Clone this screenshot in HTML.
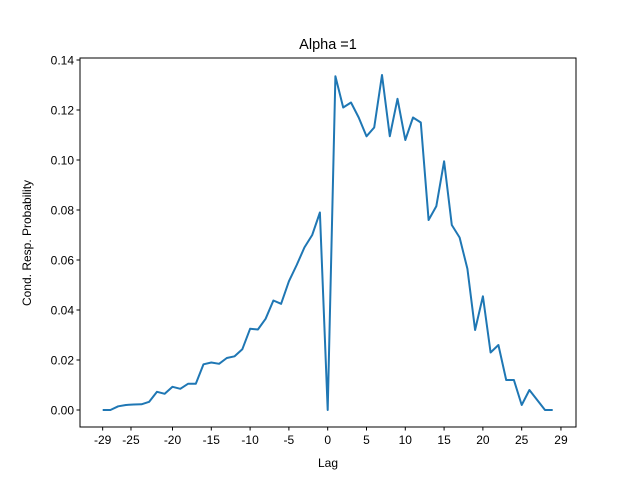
<!DOCTYPE html>
<html><head><meta charset="utf-8"><style>
body{margin:0;background:#fff;}
svg text{font-family:"Liberation Sans","DejaVu Sans",sans-serif;fill:#000;}
</style></head><body>
<svg id="c" width="640" height="480" xmlns="http://www.w3.org/2000/svg">
<rect width="640" height="480" fill="#fff"/>
<text x="328" y="49" font-size="14.5" text-anchor="middle">Alpha =1</text>
<text x="328" y="467" font-size="12" text-anchor="middle">Lag</text>
<text transform="translate(31,243) rotate(-90)" font-size="12" text-anchor="middle">Cond. Resp. Probability</text>
<g id="ticks"></g>
<polyline id="line" fill="none" stroke="#1f77b4" stroke-width="2" stroke-linejoin="round"/>
<rect x="80" y="58" width="496" height="369" fill="none" stroke="#000" stroke-width="1"/>
</svg>
<script>
const lags = [];
for (let i = -29; i <= 29; i++) lags.push(i);
const values = [0.000,0.000,0.0015,0.002,0.0022,0.0023,0.0033,0.0073,0.0065,0.0093,0.0085,0.0105,0.0105,0.0183,0.019,0.0185,0.0208,0.0215,0.0243,0.0325,0.0322,0.0365,0.0438,0.0425,0.0515,0.058,0.065,0.07,0.079,0.0,
0.1335,0.121,0.123,0.117,0.1095,0.113,0.134,0.1095,0.1245,0.108,0.117,0.115,0.076,0.0815,0.0995,0.074,0.069,0.0565,0.032,0.0455,0.023,0.026,0.012,0.012,0.002,0.008,0.004,0.000,0.000];
const xTickPos = [-29,-25.35,-20,-15,-10,-5,0,5,10,15,20,25,30.06];
const xTickLabels = ["-29","-25","-20","-15","-10","-5","0","5","10","15","20","25","29"];
const yTicks = [0,0.02,0.04,0.06,0.08,0.10,0.12,0.14];
const yTickLabels = ["0.00","0.02","0.04","0.06","0.08","0.10","0.12","0.14"];

const X0=-31.92, X1=32.0, Y0=-0.0068, Y1=0.1408;
const L=80,R=576,T=58,B=427;
function sx(v){return L+(v-X0)/(X1-X0)*(R-L);}
function sy(v){return B-(v-Y0)/(Y1-Y0)*(B-T);}
const NS="http://www.w3.org/2000/svg";
const g=document.getElementById('ticks');
function mk(tag,attrs){const e=document.createElementNS(NS,tag);for(const k in attrs)e.setAttribute(k,attrs[k]);g.appendChild(e);return e;}
xTickPos.forEach((p,i)=>{
  const x=sx(p);
  const t=mk('line',{x1:x,x2:x,y1:B,y2:B+3.5,stroke:'#000'});
  
  
  const tx=mk('text',{x:x,y:B+17,'font-size':12,'text-anchor':'middle'});
  tx.textContent=xTickLabels[i];
  
  
});
yTicks.forEach((v,i)=>{
  const y=sy(v);
  const t=mk('line',{x1:L-3.5,x2:L,y1:y,y2:y,stroke:'#000'});
  
  
  const tx=mk('text',{x:L-6,y:y+4.5,'font-size':12,'text-anchor':'end'});
  tx.textContent=yTickLabels[i];
  
  
});
document.getElementById('line').setAttribute('points',lags.map((l,i)=>sx(l).toFixed(1)+','+sy(values[i]).toFixed(1)).join(' '));
</script>
</body></html>
